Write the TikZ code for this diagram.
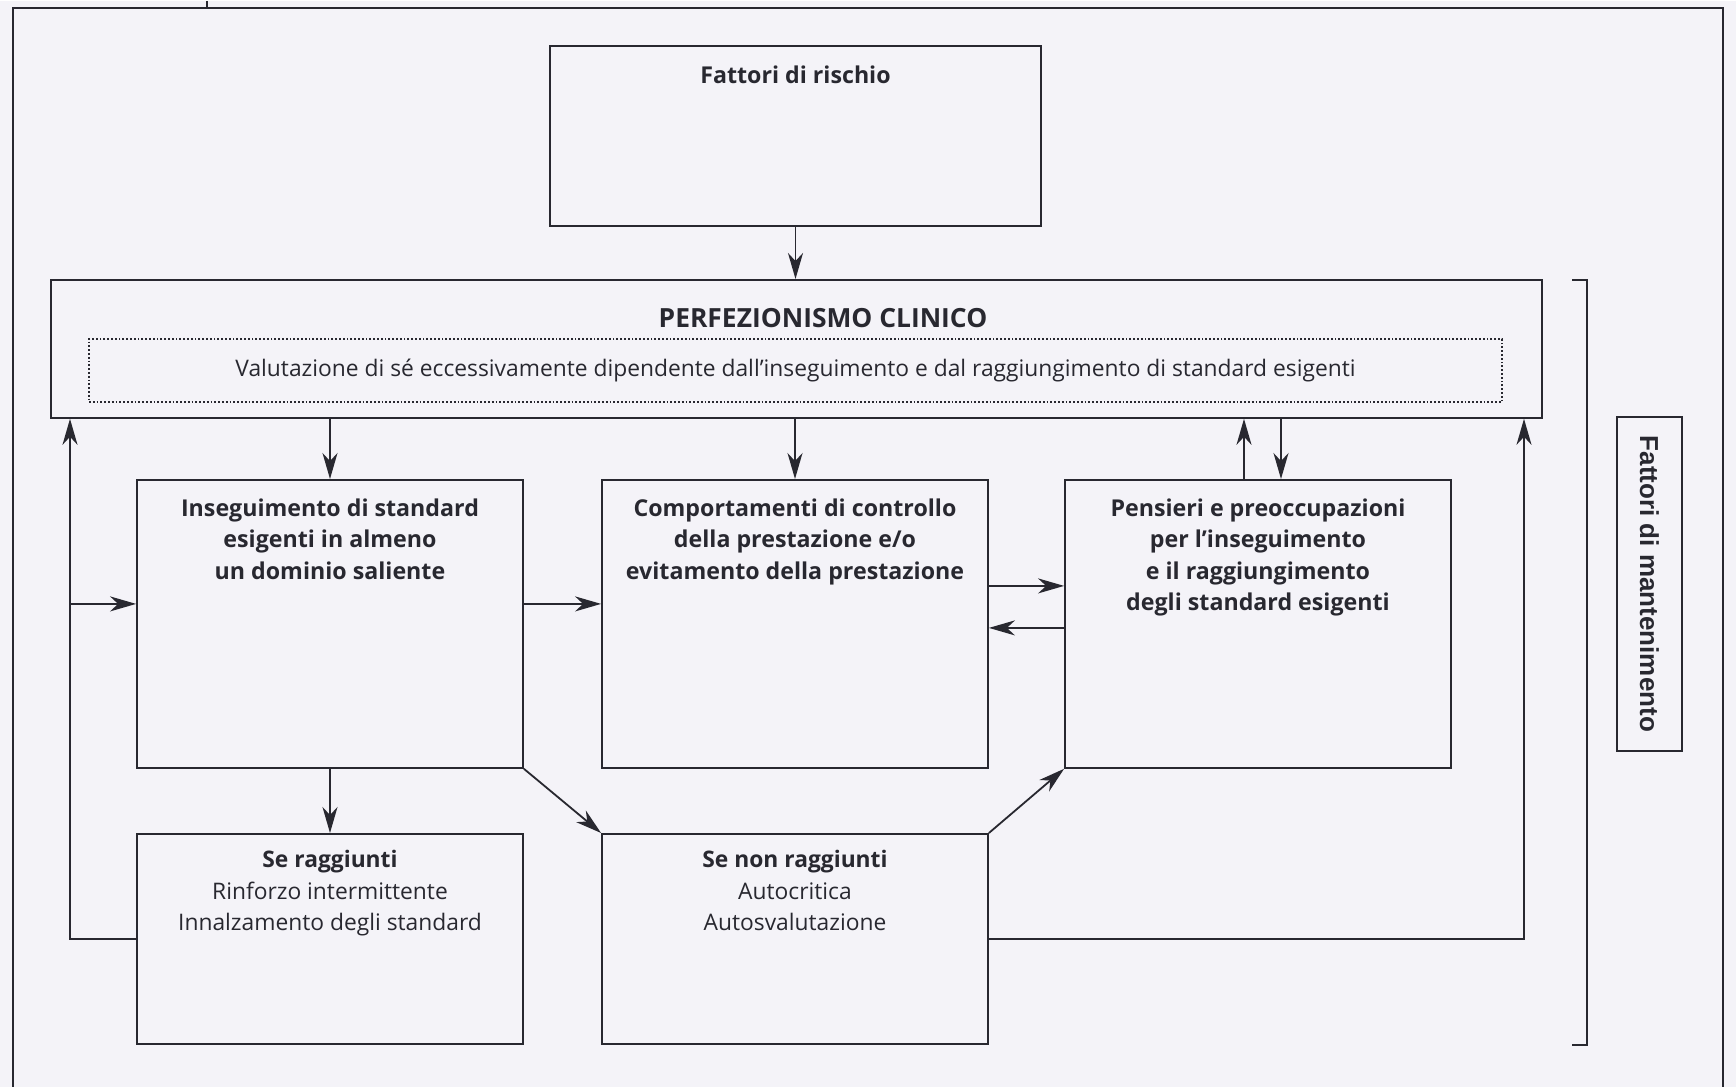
\documentclass[tikz,border=0pt]{standalone}
\usepackage{fontspec}
\setmainfont{Open Sans}
\newfontfamily\helv{Liberation Sans}
\usetikzlibrary{arrows.meta,positioning}
\definecolor{paper}{RGB}{244,243,248}
\definecolor{ink}{RGB}{40,40,48}

\begin{document}
\begin{tikzpicture}[
    x=0.5pt, y=-0.5pt,
    box/.style={draw=ink, line width=0.9pt, inner sep=0pt},
    txt/.style={align=center, text=ink, inner sep=0pt, font=\fontsize{11.4}{15.75}\selectfont},
    hd/.style={txt, font=\fontsize{11.6}{15.75}\selectfont\bfseries},
    arr/.style={-{Stealth[length=13pt, width=7.5pt, inset=4pt]}, line width=0.9pt, draw=ink},
    ln/.style={line width=0.9pt, draw=ink}
]
\fill[paper] (0,0) rectangle (1736,1086);
\draw[ln] (13,1086) |- (1723,7) -- (1723,1086);
\draw[ln] (207,0) -- (207,7);

\node[box, minimum width=245.5pt, minimum height=90pt] (rischio) at (795.5,135) {};
\node[hd, font=\fontsize{11.6}{14}\selectfont\bfseries] (rischiotxt) at (795.5,74) {Fattori di rischio};

\node[box, minimum width=745.5pt, minimum height=69pt] (perf) at (796.5,348) {};
\node[hd, font=\fontsize{13.2}{15}\selectfont\bfseries] (perftxt) at (823,317) {PERFEZIONISMO CLINICO};
\node[box, densely dotted, line width=0.6pt, minimum width=706.5pt, minimum height=31.5pt, txt] (valut) at (795.5,369.5)
    {Valutazione di sé eccessivamente dipendente dall’inseguimento e dal raggiungimento di standard esigenti};

\node[box, minimum width=193pt, minimum height=144pt] (A) at (330,623) {};
\node[hd, below=9.5pt of A.north] (Atxt) {Inseguimento di standard\\esigenti in almeno\\un dominio saliente};
\node[box, minimum width=193pt, minimum height=144pt] (B) at (795,623) {};
\node[hd, below=9.5pt of B.north] (Btxt) {Comportamenti di controllo\\della prestazione e/o\\evitamento della prestazione};
\node[box, minimum width=193pt, minimum height=144pt] (C) at (1258,623) {};
\node[hd, below=9.5pt of C.north] (Ctxt) {Pensieri e preoccupazioni\\per l’inseguimento\\e il raggiungimento\\degli standard esigenti};

\node[box, minimum width=193pt, minimum height=105pt] (D) at (330,938) {};
\node[txt, below=8.5pt of D.north] (Dtxt) {\textbf{Se raggiunti}\\Rinforzo intermittente\\Innalzamento degli standard};
\node[box, minimum width=193pt, minimum height=105pt] (E) at (795,938) {};
\node[txt, below=8.5pt of E.north] (Etxt) {\textbf{Se non raggiunti}\\Autocritica\\Autosvalutazione};

\node[box, rotate=-90, minimum width=167pt, minimum height=32.5pt, font=\helv\bfseries\fontsize{13}{15}\selectfont, text=ink] (mant) at (1649.5,583) {Fattori di mantenimento};
\draw[ln] (1572,279) -| (1587,1044) -- (1572,1044);

\coordinate (lx) at (70,0);
\coordinate (rx) at (1524,0);

\draw[arr] (rischio.south) -- (rischio.south |- perf.north);
\draw[arr] (A.north |- perf.south) -- (A.north);
\draw[arr] (B.north |- perf.south) -- (B.north);
\draw[arr] ([xshift=-7pt]C.north) -- ([xshift=-7pt]C.north |- perf.south);
\draw[arr] ([xshift=11.5pt]C.north |- perf.south) -- ([xshift=11.5pt]C.north);
\draw[arr] ([yshift=10pt]A.east) -- ([yshift=10pt]A.east -| B.west);
\draw[arr] ([yshift=19pt]B.east) -- ([yshift=19pt]B.east -| C.west);
\draw[arr] ([yshift=-2pt]C.west) -- ([yshift=-2pt]C.west -| B.east);
\draw[arr] (A.south) -- (D.north);
\draw[arr] (A.south east) -- (E.north west);
\draw[arr] (E.north east) -- (C.south west);
\draw[arr] (D.west) -| (lx |- perf.south);
\draw[arr] ([yshift=10pt]A.west -| lx) -- ([yshift=10pt]A.west);
\draw[arr] (E.east) -| (rx |- perf.south);
\end{tikzpicture}
\end{document}
